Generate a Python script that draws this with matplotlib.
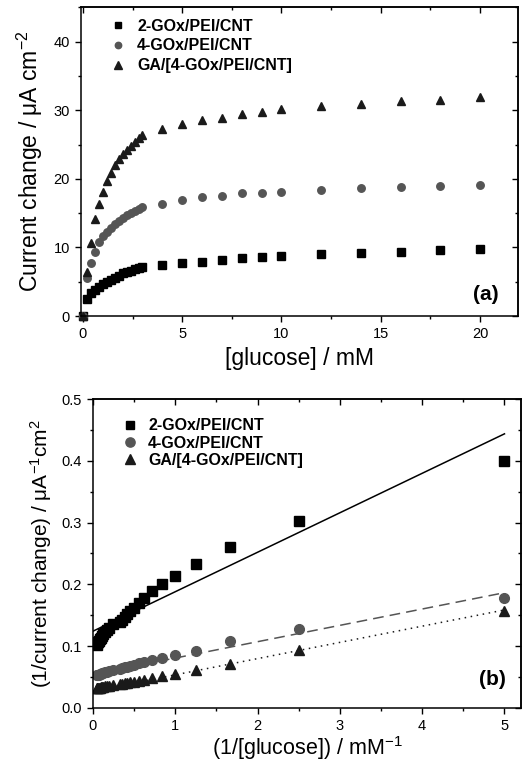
import numpy as np
import matplotlib
matplotlib.use("Agg")
import matplotlib.pyplot as plt
from matplotlib.ticker import MultipleLocator, FormatStrFormatter

plt.rcParams['font.family'] = ['Liberation Sans', 'DejaVu Sans']
plt.rcParams['mathtext.fontset'] = 'custom'
plt.rcParams['mathtext.rm'] = 'Liberation Sans'
plt.rcParams['mathtext.it'] = 'Liberation Sans'

# glucose concentrations (mM)
glucose = [0, 0.2, 0.4, 0.6, 0.8, 1.0, 1.2, 1.4, 1.6, 1.8, 2.0, 2.2, 2.4, 2.6, 2.8, 3.0,
           4, 5, 6, 7, 8, 9, 10, 12, 14, 16, 18, 20]

# current change (uA cm-2)
gox2 = [0, 2.5, 3.3, 3.85, 4.3, 4.7, 5.0, 5.3, 5.6, 5.9, 6.2, 6.4, 6.6, 6.8, 7.0, 7.2,
        7.4, 7.7, 7.9, 8.1, 8.4, 8.6, 8.8, 9.0, 9.2, 9.4, 9.6, 9.8]
gox4 = [0, 5.6, 7.8, 9.3, 10.8, 11.6, 12.3, 12.9, 13.4, 13.9, 14.3, 14.7, 15.0, 15.3, 15.6, 15.9,
        16.4, 16.9, 17.3, 17.5, 17.9, 18.0, 18.1, 18.4, 18.6, 18.8, 19.0, 19.1]
ga_gox4 = [0, 6.4, 10.7, 14.1, 16.3, 18.1, 19.7, 20.9, 22.0, 22.9, 23.6, 24.2, 24.8, 25.3, 25.9, 26.4,
           27.3, 28.0, 28.5, 28.9, 29.4, 29.8, 30.2, 30.6, 30.9, 31.3, 31.5, 31.9]

labels = ['2-GOx/PEI/CNT', '4-GOx/PEI/CNT', 'GA/[4-GOx/PEI/CNT]']

# Lineweaver-Burk fit lines: (intercept, slope)
fit_gox2 = (0.124, 0.064)
fit_gox4 = (0.054, 0.0265)
fit_ga = (0.027, 0.0263)

colors = ['#000000', '#555555', '#1a1a1a']
markers = ['s', 'o', '^']
sizes_a = [5.2, 5.4, 6.2]
sizes_b = [6.5, 7.0, 7.2]

fig = plt.figure(figsize=(5.22, 7.68), dpi=100)
ax1 = fig.add_axes([0.155, 0.5885, 0.837, 0.402])
ax2 = fig.add_axes([0.178, 0.0785, 0.820, 0.4016])


def style(ax, xmaj, xmin, ymaj, ymin):
    for s in ax.spines.values():
        s.set_linewidth(1.1)
    ax.xaxis.set_major_locator(MultipleLocator(xmaj))
    ax.xaxis.set_minor_locator(MultipleLocator(xmin))
    ax.yaxis.set_major_locator(MultipleLocator(ymaj))
    ax.yaxis.set_minor_locator(MultipleLocator(ymin))
    ax.tick_params(which='both', direction='out', labelsize=10.5, width=1.0)
    ax.tick_params(which='major', length=4.5)
    ax.tick_params(which='minor', length=2.5)
    # mirrored ticks on top and right, pointing inward
    top = ax.secondary_xaxis('top')
    right = ax.secondary_yaxis('right')
    for sec, axis in ((top, top.xaxis), (right, right.yaxis)):
        axis.set_major_locator(MultipleLocator(xmaj if sec is top else ymaj))
        axis.set_minor_locator(MultipleLocator(xmin if sec is top else ymin))
        sec.tick_params(which='both', direction='in', labelleft=False, labelright=False,
                        labeltop=False, labelbottom=False, width=1.0)
        sec.tick_params(which='major', length=4.5)
        sec.tick_params(which='minor', length=2.5)
        for s in sec.spines.values():
            s.set_linewidth(1.1)


# panel (a)
series = [gox2, gox4, ga_gox4]
for ys, c, m, ms, lab in zip(series, colors, markers, sizes_a, labels):
    ax1.plot(glucose, ys, ls='none', marker=m, color=c, ms=ms, label=lab, clip_on=False)
ax1.set_xlim(-0.1, 21.9)
ax1.set_ylim(0, 45)
ax1.set_xlabel('[glucose] / mM', fontsize=16.5, labelpad=4)
ax1.set_ylabel(r'Current change / $\mu$A cm$^{-2}$', fontsize=16.5, labelpad=6)
ax1.legend(loc='upper left', bbox_to_anchor=(0.03, 1.01), frameon=False,
           prop={'weight': 'bold', 'size': 11.5}, handletextpad=0.6,
           labelspacing=0.3, markerscale=0.85, handlelength=1.2)
ax1.text(0.955, 0.04, '(a)', transform=ax1.transAxes, fontsize=15, fontweight='bold',
         ha='right', va='bottom')
style(ax1, 5, 2.5, 10, 5)

# panel (b)
g = np.array(glucose[1:])
inv_g = 1.0 / g
fits = [fit_gox2, fit_gox4, fit_ga]
lstyles = ['-', (0, (7, 4)), (0, (1, 3))]
for ys, c, m, ms, lab in zip(series, colors, markers, sizes_b, labels):
    ax2.plot(inv_g, 1.0 / np.array(ys[1:]), ls='none', marker=m, color=c, ms=ms, label=lab)
xf = np.array([0.0, 5.0])
for (b, a), ls, c in zip(fits, lstyles, colors):
    ax2.plot(xf, b + a * xf, ls=ls, color=c, lw=1.1, zorder=1)
ax2.set_xlim(0, 5.2)
ax2.set_ylim(0, 0.5)
ax2.yaxis.set_major_formatter(FormatStrFormatter('%.1f'))
ax2.set_xlabel(r'(1/[glucose]) / mM$^{-1}$', fontsize=15.5, labelpad=1)
ax2.set_ylabel(r'(1/current change) / $\mu$A$^{-1}$cm$^{2}$', fontsize=15, labelpad=5)
ax2.legend(loc='upper left', bbox_to_anchor=(0.03, 0.985), frameon=False,
           prop={'weight': 'bold', 'size': 11.5}, handletextpad=0.55,
           labelspacing=0.15, markerscale=0.95, handlelength=1.2)
ax2.text(0.965, 0.06, '(b)', transform=ax2.transAxes, fontsize=15, fontweight='bold',
         ha='right', va='bottom')
style(ax2, 1, 0.5, 0.1, 0.05)

fig.savefig('out.png', dpi=100)
